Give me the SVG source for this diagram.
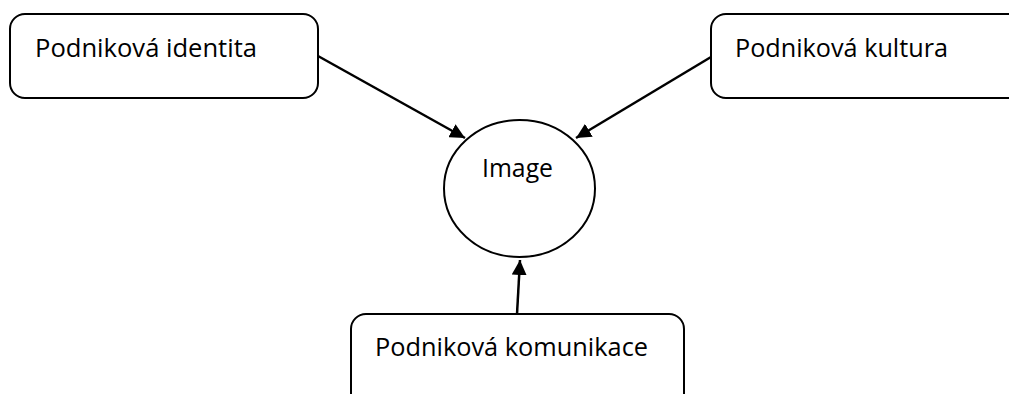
<svg xmlns="http://www.w3.org/2000/svg" width="1009" height="394" viewBox="0 0 1009 394">
<style>
.box{fill:#fff;stroke:#000;stroke-width:2}
.lbl{font-family:"Open Sans","Liberation Sans",sans-serif;font-size:26px;fill:#000}
.con{stroke:#000;stroke-width:2.5;fill:none}
</style>
<defs>
<marker id="ah" viewBox="0 0 10 10" refX="10" refY="5" markerWidth="6" markerHeight="6" markerUnits="strokeWidth" orient="auto">
<path d="M0,0 L10,5 L0,10 z" fill="#000"/>
</marker>
</defs>
<g id="connectors">
<line class="con" x1="318" y1="56" x2="465" y2="138" marker-end="url(#ah)"/>
<line class="con" x1="711" y1="57" x2="576" y2="138" marker-end="url(#ah)"/>
<line class="con" x1="517" y1="314" x2="520" y2="260" marker-end="url(#ah)"/>
</g>
<g id="n-identita">
<rect class="box" x="10" y="14" width="308" height="84" rx="15"/>
<text class="lbl" x="35" y="57" textLength="222" lengthAdjust="spacingAndGlyphs">Podniková identita</text>
</g>
<g id="n-kultura">
<rect class="box" x="711" y="14" width="320" height="84" rx="15"/>
<text class="lbl" x="735" y="57" textLength="213" lengthAdjust="spacingAndGlyphs">Podniková kultura</text>
</g>
<g id="n-komunikace">
<rect class="box" x="351" y="314" width="333" height="100" rx="15"/>
<text class="lbl" x="375" y="356" textLength="273" lengthAdjust="spacingAndGlyphs">Podniková komunikace</text>
</g>
<g id="n-image">
<ellipse class="box" cx="519.5" cy="188.5" rx="75.5" ry="68.5"/>
<text class="lbl" x="482" y="177" textLength="71" lengthAdjust="spacingAndGlyphs">Image</text>
</g>
</svg>
